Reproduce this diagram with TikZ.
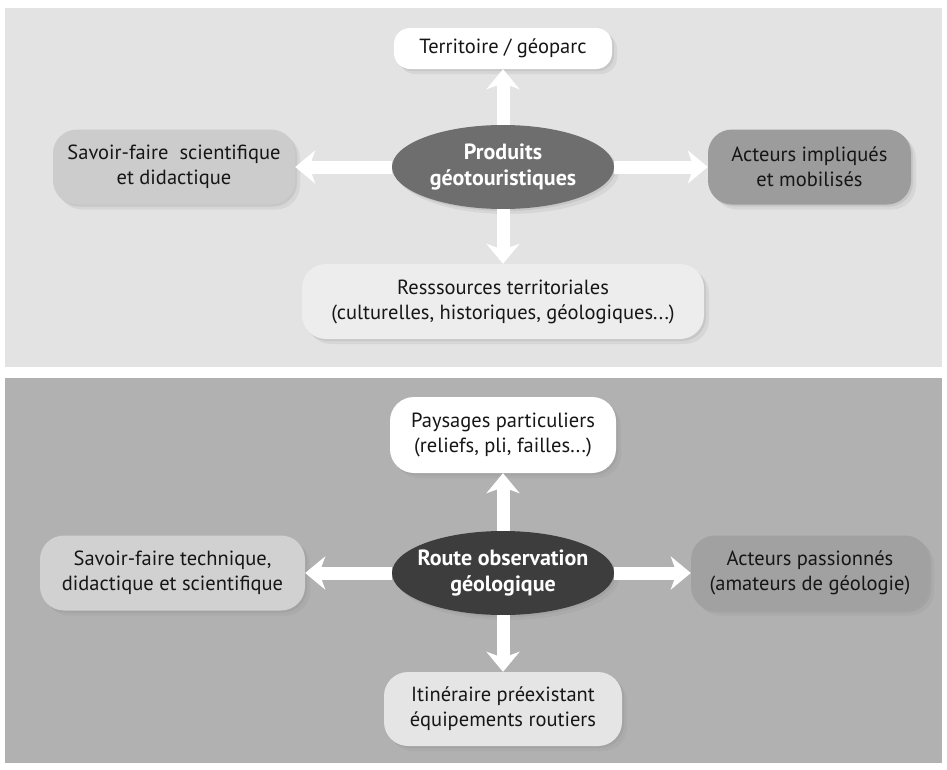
\documentclass[tikz,border=0pt]{standalone}
\usepackage{fontspec}
\setmainfont{PT Sans}
\usetikzlibrary{positioning, arrows.meta, shadows, shapes.geometric}

\definecolor{panelA}{HTML}{E3E3E3}
\definecolor{panelB}{HTML}{B1B1B1}
\definecolor{ink}{HTML}{161616}

\begin{document}
\begin{tikzpicture}[x=1pt, y=-1pt,
soft/.style={drop shadow={shadow xshift=2pt, shadow yshift=-2pt, opacity=.18},
  drop shadow={shadow xshift=5pt, shadow yshift=-5pt, opacity=.12}},
box/.style={rectangle, rounded corners=24pt, align=center, text=ink, inner sep=0pt,
  font=\fontsize{20.5}{25}\selectfont, soft},
hub/.style={ellipse, align=center, text=white, inner xsep=-40pt, inner ysep=-4pt,
  font=\bfseries\fontsize{22}{26}\selectfont, minimum width=222pt, minimum height=84pt, soft},
link/.style={white, line width=13pt, -{Stealth[width=33pt, length=20pt, inset=6pt]}}]

\useasboundingbox (0,0) rectangle (947,769);

%panels
\fill[panelA] (5,8) rectangle (942,367);
\fill[panelB] (5,378) rectangle (942,763);

%top: produits
\node[hub, fill=black!57] (hubA) at (503,167) {Produits\\géotouristiques};
\node[box, fill=white, rounded corners=16pt, minimum width=218pt, minimum height=41pt]
  (terA) at (503,48.5) {Territoire / géoparc};
\node[box, fill=black!20, minimum width=242pt, minimum height=75pt]
  (savA) at (174,167) {Savoir-faire~ scientifique\\et didactique};
\node[box, fill=black!39, minimum width=203pt, minimum height=75pt]
  (actA) at (809.5,167) {Acteurs impliqués\\et mobilisés};
\node[box, fill=black!7, minimum width=402pt, minimum height=75pt]
  (resA) at (503,301.5) {Resssources territoriales\\(culturelles, historiques, géologiques...)};

%bottom: route
\node[hub, fill=black!76] (hubB) at (503,573) {Route observation\\géologique};
\node[box, fill=white, minimum width=226pt, minimum height=76pt]
  (payB) at (503,435) {Paysages particuliers\\(reliefs, pli, failles...)};
\node[box, fill=black!18, minimum width=265pt, minimum height=75pt]
  (savB) at (172.5,573) {Savoir-faire technique,\\didactique et scientifique};
\node[box, fill=black!37, minimum width=238pt, minimum height=75pt]
  (actB) at (810,573) {Acteurs passionnés\\(amateurs de géologie)};
\node[box, fill=black!10, minimum width=238pt, minimum height=74pt]
  (itiB) at (503,709) {Itinéraire préexistant\\équipements routiers};

\foreach \T in {terA,savA,actA,resA}
{\draw[link] (hubA) -- (\T);}

\foreach \T in {payB,savB,actB,itiB}
{\draw[link] (hubB) -- (\T);}
\end{tikzpicture}
\end{document}
